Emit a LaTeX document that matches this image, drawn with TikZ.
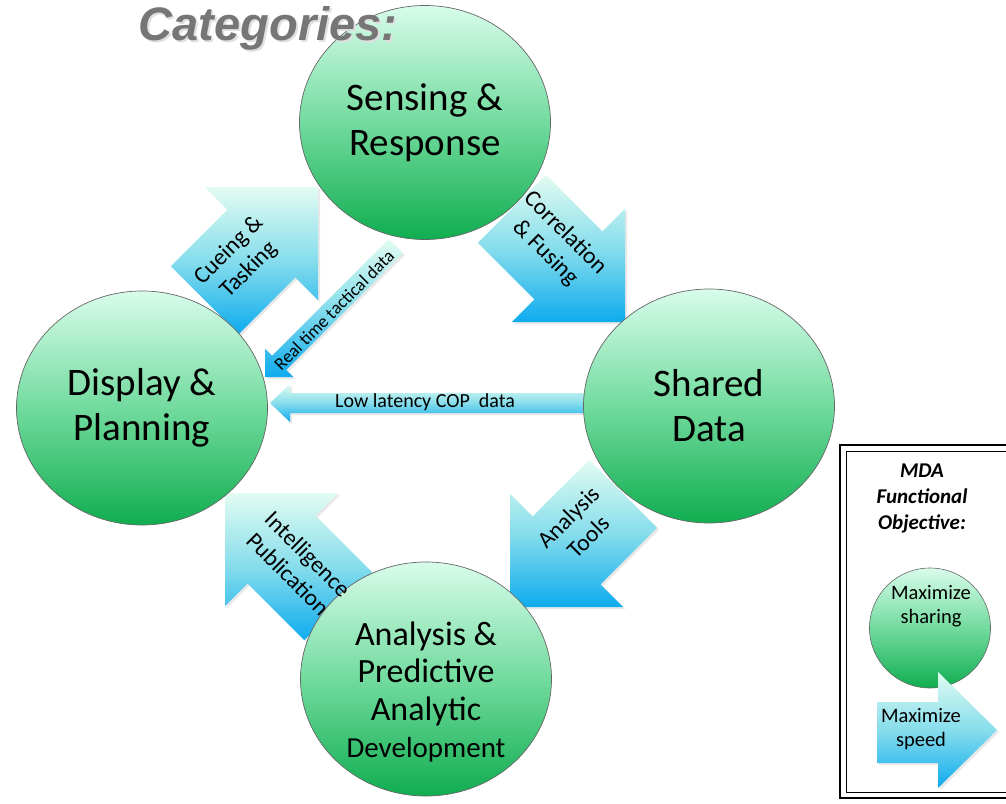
\documentclass[tikz,border=0pt]{standalone}
\usepackage{fontspec}
\setmainfont{Carlito}
\newfontfamily\catfont{Liberation Sans}
\usetikzlibrary{shapes.geometric,shadows}
\definecolor{arrtop}{HTML}{E2FCF1}
\definecolor{arrmid}{HTML}{86DDEC}
\definecolor{arrbot}{HTML}{0EABEE}
\definecolor{circtop}{HTML}{D8FCEB}
\definecolor{circmid}{HTML}{72DB9E}
\definecolor{circbot}{HTML}{10AD50}
\definecolor{catgray}{HTML}{767676}
\begin{document}
\begin{tikzpicture}[x=1pt,y=-1pt,
  blockarrow/.style={top color=arrtop, bottom color=arrbot, middle color=arrmid, draw=none,
    drop shadow={opacity=0.18, shadow xshift=2pt, shadow yshift=-2pt}},
  bigcirc/.style={ellipse, minimum width=251pt, minimum height=234pt, draw=black!60, line width=0.7pt,
    top color=circtop, bottom color=circbot, middle color=circmid, inner sep=0pt, align=center,
    font=\fontsize{39}{45}\selectfont},
  atext/.style={align=center, inner sep=0pt, font=\fontsize{23.5}{28}\selectfont},
  stext/.style={inner sep=0pt, font=\fontsize{18}{20}\selectfont},
  legtext/.style={align=center, inner sep=0pt, font=\fontsize{20.5}{24}\selectfont}
]
\useasboundingbox (0,0) rectangle (1006,803);
\clip (0,0) rectangle (1006,803);

% big block arrows
\path[blockarrow] (318,187) -- (318,300.1) -- (295.4,277.5) -- (238.8,334.1) -- (170.9,266.2) -- (227.5,209.6) -- (204.9,187) -- cycle;
\path[blockarrow] (625,322) -- (511.9,322) -- (534.5,299.4) -- (477.9,242.8) -- (545.8,174.9) -- (602.4,231.5) -- (625,208.9) -- cycle;
\path[blockarrow] (510,607) -- (623.1,607) -- (600.5,584.4) -- (657.1,527.8) -- (589.2,459.9) -- (532.6,516.5) -- (510,493.9) -- cycle;
\path[blockarrow] (225,493) -- (338.1,493) -- (315.5,515.6) -- (372.1,572.2) -- (304.2,640.1) -- (247.6,583.5) -- (225,606.1) -- cycle;

% thin arrows
\path[blockarrow] (265,377) -- (293.3,377) -- (286.2,369.9) -- (402.9,253.3) -- (388.7,239.1) -- (272.1,355.8) -- (265,348.7) -- cycle;
\path[blockarrow] (270,403) -- (290,384) -- (290,393) -- (600,393) -- (600,413) -- (290,413) -- (290,422) -- cycle;

% circles
\node[bigcirc] (sens) at (425,122.5) {Sensing \&\\Response};
\node[bigcirc] (disp) at (142,408) {Display \&\\Planning};
\node[bigcirc] (shared) at (709,406) {Shared\\Data};
\node[bigcirc] (anal) at (426,679) {};
\node[align=center, inner sep=0pt, font=\fontsize{34}{37.5}\selectfont] (analtext) at (426,692)
  {Analysis \&\\Predictive\\Analytic\\\fontsize{29}{36}\selectfont Development};

% arrow labels
\node[atext, rotate=45] (cue) at (239,260) {Cueing \&\\Tasking};
\node[atext, rotate=-45] (corr) at (555,243) {Correlation\\\& Fusing};
\node[atext, rotate=45] (tools) at (578,527) {Analysis\\Tools};
\node[atext, rotate=-45] (intel) at (298,564) {Intelligence\\Publication};
\node[stext, rotate=45] (rt) at (334,310) {Real time tactical data};
\node[inner sep=0pt, font=\fontsize{20}{24}\selectfont] (cop) at (425,402) {Low latency COP\ \ data};

% title
\node[inner sep=0pt, font=\catfont\bfseries\itshape\fontsize{47}{50}\selectfont, text=black!12] (catsh) at (270,30) {Categories:};
\node[inner sep=0pt, font=\catfont\bfseries\itshape\fontsize{47}{50}\selectfont, text=catgray] (cat) at (268,28) {Categories:};

% legend
\draw[line width=2.6pt] (840,445) rectangle (1030,798);
\draw[line width=0.8pt] (846,451) rectangle (1024,792);
\node[legtext, font=\bfseries\itshape\fontsize{21}{26}\selectfont] (mda) at (922,498) {MDA\\Functional\\Objective:};
\node[ellipse, minimum width=121pt, minimum height=120pt, draw=black!60, line width=0.6pt,
  top color=circtop, bottom color=circbot, middle color=circmid, inner sep=0pt] (legc) at (930,628) {};
\node[legtext] (share) at (931,606) {Maximize\\sharing};
\path[blockarrow] (997,730) -- (938,672) -- (938,702) -- (877,702) -- (877,763) -- (938,763) -- (938,788) -- cycle;
\node[legtext] (speed) at (921,729) {Maximize\\speed};
\end{tikzpicture}
\end{document}
